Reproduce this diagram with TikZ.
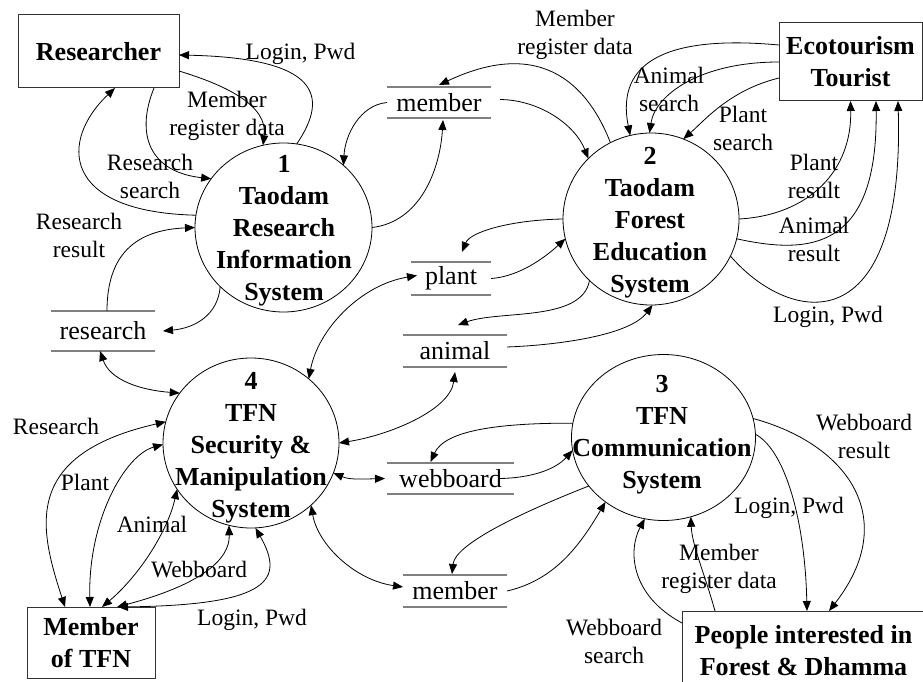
\documentclass[tikz,border=0pt]{standalone}
\usepackage{fontspec}
\setmainfont{Liberation Serif}
\usetikzlibrary{arrows.meta,shapes.geometric}

\tikzset{
  flow/.style={draw, line width=0.8pt, -{Triangle[length=10pt,width=8pt]}},
  both/.style={draw, line width=0.8pt, {Triangle[length=10pt,width=8pt]}-{Triangle[length=10pt,width=8pt]}},
  proc/.style={draw, ellipse, inner sep=0pt, outer sep=0pt, line width=0.8pt},
  proctext/.style={align=center, inner sep=0pt, font=\fontsize{26}{32}\selectfont\bfseries},
  entity/.style={draw=black!80, line width=1pt, rectangle, inner sep=0pt, outer sep=0pt,
                 align=center, font=\fontsize{26}{32}\selectfont\bfseries},
  store/.style={rectangle, inner sep=0pt, outer sep=0pt, font=\fontsize{26}{30}\selectfont},
  storeline/.style={draw=black!50, line width=1.5pt},
  lbl/.style={align=center, inner sep=0pt, font=\fontsize{23.5}{28}\selectfont},
}

\begin{document}
\begin{tikzpicture}[x=1pt,y=-1pt]
\useasboundingbox (0,0) rectangle (923,682);
\clip (0,0) rectangle (923,682);

% external entities
\node[entity, minimum width=161pt, minimum height=73pt] (res) at (98.5,51.5) {Researcher};
\node[entity, minimum width=143pt, minimum height=78pt] (eco) at (850.5,62) {Ecotourism\\Tourist};
\node[entity, minimum width=128pt, minimum height=71pt] (mtfn) at (91,642.5) {Member\\of TFN};
\node[entity, minimum width=243pt, minimum height=79pt] (ppl) at (803.5,650.5) {People interested in\\Forest \& Dhamma};

% processes
\node[proc, minimum width=177pt, minimum height=169pt] (p1) at (283.5,227.5) {};
\node[proctext] (t1) at (284,231) {1\\Taodam\\Research\\Information\\System};
\node[proc, minimum width=176pt, minimum height=172pt] (p2) at (651,219) {};
\node[proctext] (t2) at (650,223) {2\\Taodam\\Forest\\Education\\System};
\node[proc, minimum width=184pt, minimum height=166pt] (p3) at (663.5,437.5) {};
\node[proctext] (t3) at (662,435) {3\\TFN\\Communication\\System};
\node[proc, minimum width=176pt, minimum height=170pt] (p4) at (251,443) {};
\node[proctext] (t4) at (251,448) {4\\TFN\\Security \&\\Manipulation\\System};

% data stores
\node[store, minimum width=104pt, minimum height=31pt] (sMem1) at (439,102.5) {member};
\node[store, minimum width=80pt, minimum height=33pt] (sPlant) at (451,278.5) {plant};
\node[store, minimum width=104pt, minimum height=32pt] (sAnimal) at (455,351) {animal};
\node[store, minimum width=104pt, minimum height=40pt] (sResearch) at (103,331) {research};
\node[store, minimum width=127pt, minimum height=31pt] (sWeb) at (450.5,478.5) {webboard};
\node[store, minimum width=104pt, minimum height=32pt] (sMem2) at (455,591) {member};
\foreach \s in {sMem1,sPlant,sAnimal,sResearch,sWeb,sMem2}
  \draw[storeline] (\s.north west) -- (\s.north east) (\s.south west) -- (\s.south east);

% Researcher <-> process 1
\draw[flow] (p1.81) .. controls (330,95) and (318,58) .. ([yshift=-3.5pt]res.east);
\draw[flow] ([yshift=-19.5pt]res.east) .. controls (225,85) and (268,105) .. (p1.104);
\draw[flow] ([xshift=55.5pt]res.south) .. controls (135,135) and (150,172) .. (p1.146);
\draw[flow] (p1.172) .. controls (60,212) and (60,140) .. ([xshift=16.5pt]res.south);

% research store
\draw[flow] ([xshift=4pt]sResearch.north) .. controls (107,255) and (135,230) .. (p1.180);
\draw[flow] (p1.223) .. controls (218,315) and (195,328) .. ([xshift=8pt]sResearch.east);
\draw[both] ([xshift=-3pt]sResearch.south) .. controls (110,380) and (140,390) .. (p4.145);

% member store (upper)
\draw[flow] (sMem1.west) .. controls (360,105) and (345,135) .. (p1.46);
\draw[flow] (p1.0) .. controls (420,222) and (440,170) .. ([xshift=4pt,yshift=-2pt]sMem1.south);
\draw[flow] ([xshift=9pt,yshift=3pt]sMem1.east) .. controls (540,100) and (575,125) .. (p2.136);
\draw[flow] (p2.118) .. controls (590,90) and (545,35) .. ([yshift=2pt]sMem1.north);

% Ecotourism Tourist <-> process 2
\draw[flow] ([yshift=17pt]eco.west) .. controls (670,35) and (615,60) .. (p2.104);
\draw[flow] (eco.west) .. controls (700,62) and (655,95) .. (p2.91);
\draw[flow] ([yshift=-16pt]eco.west) .. controls (730,90) and (705,120) .. (p2.68);
\draw[flow] (p2.0) .. controls (810,215) and (852,170) .. (eco.south);
\draw[flow] (p2.-13) .. controls (810,255) and (878,250) .. ([xshift=25.5pt]eco.south);
\draw[flow] (p2.-25) .. controls (790,325) and (905,345) .. ([xshift=47.5pt]eco.south);

% plant and animal stores
\draw[flow] (p2.180) .. controls (510,220) and (470,232) .. ([xshift=11pt,yshift=10pt]sPlant.north);
\draw[flow] (sPlant.east) .. controls (515,277) and (540,262) .. (p2.193);
\draw[flow] (p2.225) .. controls (582,322) and (500,310) .. ([xshift=3pt,yshift=10pt]sAnimal.north);
\draw[flow] ([yshift=4pt]sAnimal.east) .. controls (560,345) and (630,335) .. (p2.271);
\draw[both] (p4.48) .. controls (318,330) and (360,285) .. ([xshift=6pt,yshift=3pt]sPlant.west);
\draw[both] (p4.0) .. controls (390,435) and (450,410) .. ([yshift=-5pt]sAnimal.south);

% webboard store
\draw[flow] (p3.171) .. controls (500,423) and (445,430) .. ([xshift=-20pt,yshift=1pt]sWeb.north);
\draw[flow] ([xshift=-14pt]sWeb.east) .. controls (530,478) and (555,470) .. (p3.188);
\draw[both] (p4.-20) .. controls (350,480) and (365,479) .. ([xshift=-2pt]sWeb.west);

% member store (lower)
\draw[both] (p4.-46) .. controls (318,545) and (355,580) .. ([yshift=4pt]sMem2.west);
\draw[flow] (p3.213) .. controls (515,515) and (455,545) .. ([xshift=-3pt,yshift=1pt]sMem2.north);
\draw[flow] (sMem2.east) .. controls (555,580) and (580,545) .. (p3.228);

% Member of TFN <-> process 4
\draw[both] (p4.166) .. controls (20,455) and (40,530) .. ([xshift=-26pt]mtfn.north);
\draw[both] (p4.181) .. controls (125,455) and (88,520) .. ([xshift=-1pt]mtfn.north);
\draw[both] (p4.212) .. controls (168,530) and (140,575) .. ([xshift=11pt]mtfn.north);
\draw[both] (p4.255) .. controls (230,560) and (200,585) .. ([xshift=26pt]mtfn.north);
\draw[both] (p4.273) .. controls (285,580) and (270,605) .. ([xshift=27pt]mtfn.north);

% People interested in Forest & Dhamma <-> process 3
\draw[flow] ([yshift=-12pt]ppl.north west) .. controls (630,595) and (628,550) .. (p3.257);
\draw[flow] ([xshift=33pt]ppl.north west) .. controls (705,575) and (692,545) .. (p3.289);
\draw[flow] (p3.2) .. controls (785,450) and (805,520) .. ([xshift=125pt]ppl.north west);
\draw[flow] (p3.12) .. controls (850,445) and (900,520) .. ([xshift=147pt]ppl.north west);

% flow labels
\node[lbl] (l1) at (300.5,53.5) {Login, Pwd};
\node[lbl] (l2) at (227,115.5) {Member\\register data};
\node[lbl] (l3) at (150,176) {Research\\search};
\node[lbl] (l4) at (79,235) {Research\\result};
\node[lbl] (l5) at (575,34.5) {Member\\register data};
\node[lbl] (l6) at (669,89) {Animal\\search};
\node[lbl] (l7) at (743,128) {Plant\\search};
\node[lbl] (l8) at (814,176) {Plant\\result};
\node[lbl] (l9) at (814,239) {Animal\\result};
\node[lbl] (l10) at (828,316.5) {Login, Pwd};
\node[lbl] (l11) at (56,426) {Research};
\node[lbl] (l12) at (85,482) {Plant};
\node[lbl] (l13) at (152,524) {Animal};
\node[lbl] (l14) at (199,570) {Webboard};
\node[lbl] (l15) at (252,619.5) {Login, Pwd};
\node[lbl] (l16) at (614,641) {Webboard\\search};
\node[lbl] (l17) at (719,568.5) {Member\\register data};
\node[lbl] (l18) at (789,507.5) {Login, Pwd};
\node[lbl] (l19) at (864,436) {Webboard\\result};
\end{tikzpicture}
\end{document}
